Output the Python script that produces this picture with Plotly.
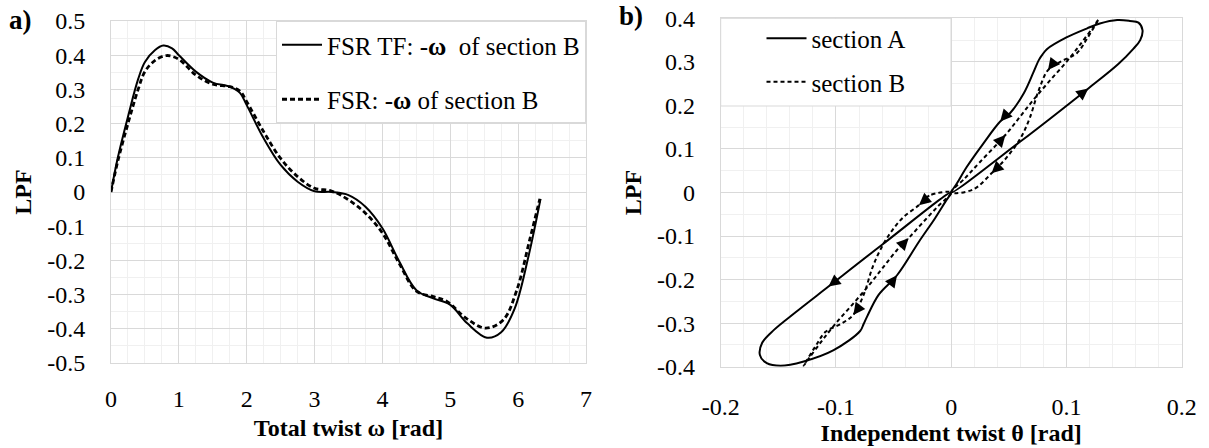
import math
import plotly.graph_objects as go

FONT = "Liberation Serif"
FS = 24
FL = 25
W, H = 1209, 448

# ---------------- Panel a data ----------------
omega_tf = [0, 0.1, 0.25, 0.4, 0.5, 0.65, 0.77, 0.9, 1.0, 1.25, 1.5, 1.75, 1.9, 2.0,
            2.25, 2.5, 2.75, 3.0, 3.25, 3.5, 3.75, 4.0, 4.25, 4.5, 4.75, 5.0, 5.25,
            5.54, 5.75, 5.95, 6.15, 6.33]
lpf_tf = [0, 0.10, 0.22, 0.33, 0.38, 0.415, 0.428, 0.42, 0.40, 0.352, 0.32, 0.308, 0.29,
          0.254, 0.157, 0.079, 0.03, 0.002, 0.0, -0.009, -0.043, -0.106, -0.204, -0.287,
          -0.311, -0.33, -0.384, -0.426, -0.41, -0.34, -0.19, -0.02]

omega_fsr = [0, 0.1, 0.25, 0.4, 0.5, 0.65, 0.82, 1.0, 1.25, 1.5, 1.75, 1.9, 2.0, 2.25,
             2.5, 2.75, 3.0, 3.25, 3.5, 3.75, 4.0, 4.25, 4.5, 4.75, 4.95, 5.24, 5.52,
             5.78, 5.98, 6.17, 6.32]
lpf_fsr = [0, 0.09, 0.20, 0.30, 0.352, 0.385, 0.399, 0.388, 0.342, 0.315, 0.308, 0.295,
           0.264, 0.176, 0.098, 0.045, 0.011, 0.003, -0.023, -0.062, -0.12, -0.21, -0.29,
           -0.306, -0.32, -0.37, -0.398, -0.374, -0.287, -0.14, -0.02]

xa_ticks = [0, 1, 2, 3, 4, 5, 6, 7]
xa_text = ["0", "1", "2", "3", "4", "5", "6", "7"]
ya_ticks = [0.5, 0.4, 0.3, 0.2, 0.1, 0, -0.1, -0.2, -0.3, -0.4, -0.5]
ya_text = ["0.5", "0.4", "0.3", "0.2", "0.1", "0", "-0.1", "-0.2", "-0.3", "-0.4", "-0.5"]

# ---------------- Panel b data ----------------
A_up_theta = [0, 0.06, 0.119, 0.145, 0.158, 0.164, 0.166, 0.1625, 0.155, 0.144, 0.129,
              0.118, 0.100, 0.083, 0.079, 0.076, 0.0715, 0.063, 0.051, 0.0425, 0.028,
              0.0136, 0.005, 0]
A_up_lpf = [0, 0.117, 0.239, 0.295, 0.33, 0.35, 0.373, 0.39, 0.394, 0.396, 0.388, 0.377,
            0.356, 0.329, 0.316, 0.304, 0.277, 0.228, 0.182, 0.163, 0.113, 0.059, 0.021, 0]
A_lo_theta = [0, -0.06, -0.1065, -0.135, -0.154, -0.164, -0.166, -0.16, -0.148, -0.128,
              -0.102, -0.079, -0.076, -0.073, -0.063, -0.047, -0.028, -0.014, -0.005, 0]
A_lo_lpf = [0, -0.12, -0.216, -0.275, -0.316, -0.345, -0.373, -0.392, -0.398, -0.388,
            -0.362, -0.318, -0.302, -0.285, -0.235, -0.19, -0.113, -0.059, -0.021, 0]

B_up_theta = [0, 0.012, 0.025, 0.047, 0.06, 0.072, 0.085, 0.1, 0.112, 0.1235, 0.128,
              0.118, 0.109, 0.0946, 0.084, 0.076, 0.068, 0.06, 0.048, 0.035, 0.019, 0]
B_up_lpf = [0, 0.033, 0.07, 0.132, 0.175, 0.215, 0.255, 0.30, 0.34, 0.381, 0.398,
            0.354, 0.32, 0.30, 0.281, 0.235, 0.17, 0.124, 0.08, 0.044, 0.007, 0]
B_lo_theta = [0, -0.019, -0.028, -0.042, -0.052, -0.06, -0.068, -0.076, -0.085, -0.0946,
              -0.109, -0.118, -0.128, -0.1235, -0.112, -0.1, -0.085, -0.072, -0.06,
              -0.047, -0.037, -0.025, -0.012, 0]
B_lo_lpf = [0, -0.007, -0.029, -0.058, -0.09, -0.124, -0.17, -0.235, -0.281, -0.30,
            -0.32, -0.354, -0.398, -0.381, -0.34, -0.30, -0.255, -0.215, -0.175, -0.132,
            -0.105, -0.07, -0.033, 0]

# indices of points on each loop that carry a direction arrow
A_up_arrows = [2, 19]
A_lo_arrows = [2, 15]
B_up_arrows = [3, 14, 19]
B_lo_arrows = [2, 8, 20]

xb_ticks = [-0.2, -0.1, 0, 0.1, 0.2]
xb_text = ["-0.2", "-0.1", "0", "0.1", "0.2"]
yb_ticks = [0.4, 0.3, 0.2, 0.1, 0, -0.1, -0.2, -0.3, -0.4]
yb_text = ["0.4", "0.3", "0.2", "0.1", "0", "-0.1", "-0.2", "-0.3", "-0.4"]

# ---------------- layout geometry ----------------
dom_xa = [111 / W, 586 / W]
dom_ya = [85 / H, 427 / H]
dom_xb = [720.7 / W, 1181.7 / W]
dom_yb = [81.3 / H, 429.7 / H]
rng_xa, rng_ya = [0, 7], [-0.5, 0.5]
rng_xb, rng_yb = [-0.2, 0.2], [-0.4, 0.4]

fig = go.Figure()

fig.add_trace(go.Scatter(
    x=omega_tf, y=lpf_tf, mode="lines", line=dict(color="black", width=2, shape="spline"),
    name="FSR TF: -<b>ω</b>  of section B", xaxis="x", yaxis="y",
    legend="legend", legendgroup="a1"))
fig.add_trace(go.Scatter(
    x=omega_fsr, y=lpf_fsr, mode="lines",
    line=dict(color="black", width=2.8, dash="5px,3px", shape="spline"),
    name="FSR: -<b>ω</b> of section B", xaxis="x", yaxis="y",
    legend="legend", legendgroup="a2"))

A_theta = A_up_theta + [None] + A_lo_theta
A_lpf = A_up_lpf + [None] + A_lo_lpf
B_theta = B_up_theta + [None] + B_lo_theta
B_lpf = B_up_lpf + [None] + B_lo_lpf

fig.add_trace(go.Scatter(
    x=A_theta, y=A_lpf, mode="lines", line=dict(color="black", width=2, shape="spline"),
    name="section A", xaxis="x2", yaxis="y2", legend="legend2", legendgroup="b1",
    connectgaps=False))
fig.add_trace(go.Scatter(
    x=B_theta, y=B_lpf, mode="lines",
    line=dict(color="black", width=2, dash="4px,3px", shape="spline"),
    name="section B", xaxis="x2", yaxis="y2", legend="legend2", legendgroup="b2",
    connectgaps=False))

# pixel scales for panel b (to orient arrows)
sx = (dom_xb[1] - dom_xb[0]) * W / (rng_xb[1] - rng_xb[0])
sy = (dom_yb[1] - dom_yb[0]) * H / (rng_yb[1] - rng_yb[0])

annotations = []
for xs, ys, idxs in [(A_up_theta, A_up_lpf, A_up_arrows), (A_lo_theta, A_lo_lpf, A_lo_arrows),
                     (B_up_theta, B_up_lpf, B_up_arrows), (B_lo_theta, B_lo_lpf, B_lo_arrows)]:
    for i in idxs:
        dx = (xs[i + 1] - xs[i - 1]) * sx
        dy = (ys[i + 1] - ys[i - 1]) * sy
        n = math.hypot(dx, dy)
        L = 12.0
        tx = xs[i] - dx / n * L / sx
        ty = ys[i] - dy / n * L / sy
        annotations.append(dict(
            x=xs[i], y=ys[i], ax=tx, ay=ty, xref="x2", yref="y2", axref="x2", ayref="y2",
            text="", showarrow=True, arrowhead=2, arrowsize=1.5, arrowwidth=1.6,
            arrowcolor="black", standoff=0, startstandoff=0))

annotations.append(dict(text="<b>a)</b>", x=7 / W, y=1 - 20 / H, xref="paper", yref="paper",
                        xanchor="left", yanchor="middle", showarrow=False,
                        font=dict(family=FONT, size=27, color="black")))
annotations.append(dict(text="<b>b)</b>", x=617 / W, y=1 - 16 / H, xref="paper", yref="paper",
                        xanchor="left", yanchor="middle", showarrow=False,
                        font=dict(family=FONT, size=27, color="black")))

MAJ = "#d9d9d9"
MIN = "#f0f0f0"

def serif(labels):
    return ["<span style=\"font-family:'Liberation Serif',serif\">%s</span>" % t for t in labels]

def axis(dom, rng, tv, tt, minor_dtick, title, anchor, standoff, tls):
    return dict(domain=dom, range=rng, tickmode="array", tickvals=tv, ticktext=serif(tt),
                showgrid=True, gridcolor=MAJ, gridwidth=1, zeroline=False,
                showline=True, linecolor=MAJ, linewidth=1, mirror=True, ticks="",
                tickfont=dict(family=FONT, size=FS, color="black"),
                anchor=anchor, ticklabelstandoff=tls, automargin=False,
                minor=dict(tickmode="linear", tick0=0, dtick=minor_dtick, showgrid=True,
                           gridcolor=MIN, gridwidth=1, ticks=""),
                title=dict(text=title, font=dict(family=FONT, size=FS, color="black"),
                           standoff=standoff))

# opaque legend frame for panel b (Excel-style fixed-size box)
shapes = [dict(type="rect", xref="paper", yref="paper", layer="above",
               x0=720.7 / W, x1=951 / W, y0=1 - 106 / H, y1=1 - 18.3 / H,
               line=dict(color=MAJ, width=1), fillcolor="white")]

fig.update_layout(
    width=W, height=H, margin=dict(l=0, r=0, t=0, b=0, autoexpand=False),
    paper_bgcolor="white", plot_bgcolor="white",
    font=dict(family=FONT, size=FS, color="black"),
    xaxis=axis(dom_xa, rng_xa, xa_ticks, xa_text, 0.25, "<b>Total twist ω [rad]</b>", "y", 8, 14),
    yaxis=axis(dom_ya, rng_ya, ya_ticks, ya_text, 0.05, "<b>LPF</b>", "x", 8, 20),
    xaxis2=axis(dom_xb, rng_xb, xb_ticks, xb_text, 0.02, "<b>Independent twist θ [rad]</b>", "y2", 5, 18),
    yaxis2=axis(dom_yb, rng_yb, yb_ticks, yb_text, 0.05, "<b>LPF</b>", "x2", 8, 20),
    legend=dict(x=276 / W, y=1 - 21 / H, xanchor="left", yanchor="top", bgcolor="white",
                bordercolor=MAJ, borderwidth=1, font=dict(family=FONT, size=FL, color="black"),
                traceorder="grouped", tracegroupgap=19, itemwidth=40),
    legend2=dict(x=761.5 / W, y=1 - 15.5 / H, xanchor="left", yanchor="top",
                 bgcolor="rgba(0,0,0,0)", borderwidth=0,
                 font=dict(family=FONT, size=FL, color="black"),
                 traceorder="grouped", tracegroupgap=8, itemwidth=40),
    shapes=shapes,
    annotations=annotations,
    showlegend=True,
)

fig.write_html("out.html")
